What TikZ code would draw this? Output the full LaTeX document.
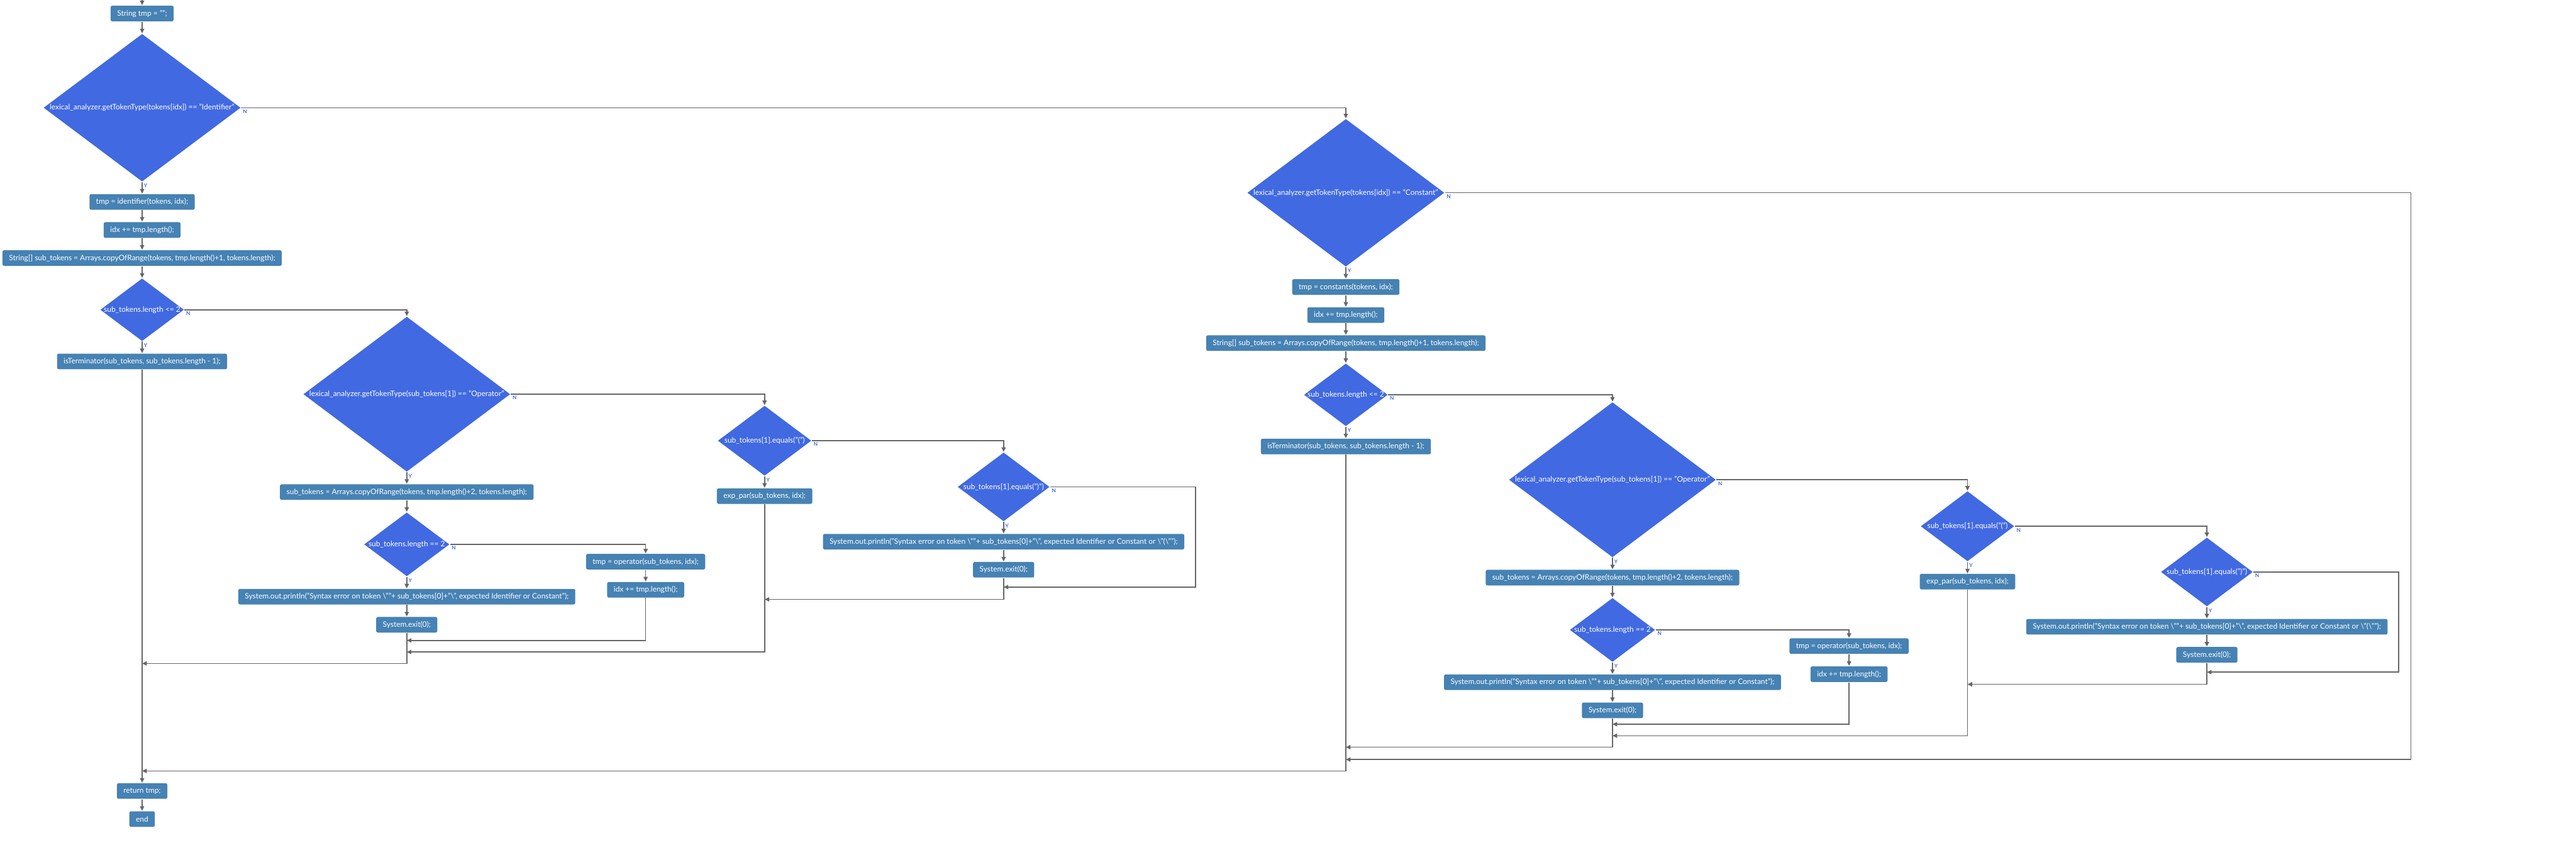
\documentclass[tikz,border=0pt]{standalone}
\usepackage{fontspec}
\setmainfont{Lato}
\usetikzlibrary{arrows.meta,positioning,shapes.geometric}
\definecolor{boxblue}{RGB}{70,130,180}
\definecolor{decblue}{RGB}{65,105,225}
\definecolor{linegray}{RGB}{102,102,102}

\begin{document}
\begin{tikzpicture}[x=1mm,y=-1mm,->,>={Triangle[length=2.8mm,width=2.6mm]},
  color=linegray,line width=0.6mm,node distance=7mm,
  op/.style={rectangle,rounded corners=1mm,fill=boxblue,text=white,
    font=\fontsize{13}{15}\selectfont,minimum height=9.5mm,inner xsep=4mm,inner ysep=0pt},
  dec/.style={diamond,fill=decblue,text=white,font=\fontsize{13}{15}\selectfont,
    inner sep=0pt,minimum width=#1mm,minimum height=0.75*#1mm},
  yn/.style={text=decblue,font=\fontsize{9}{9}\selectfont\bfseries,
    inner sep=0.8mm,anchor=north west,pos=0},
  hv/.style={to path={-| (\tikztotarget) \tikztonodes}},
  vh/.style={to path={|- (\tikztotarget) \tikztonodes}}]
  \useasboundingbox (0,0) rectangle (1568,513);

  % identifier branch
  \coordinate (top) at (86.5,0);
  \node[op] (init) at (86.5,8.25) {String tmp = "";};
  \node[dec=120,below=of init] (d1) {\makebox[0pt]{lexical\_analyzer.getTokenType(tokens[idx]) == "Identifier"}};
  \node[op,below=of d1] (identA) {tmp = identifier(tokens, idx);};
  \node[op,below=of identA] (idxA) {idx += tmp.length();};
  \node[op,below=of idxA] (subA) {String[] sub\_tokens = Arrays.copyOfRange(tokens, tmp.length()+1, tokens.length);};
  \node[dec=51,below=of subA] (d2) {\makebox[0pt]{sub\_tokens.length <= 2}};
  \node[op,below=of d2] (termA) {isTerminator(sub\_tokens, sub\_tokens.length - 1);};

  \node[dec=126,anchor=north] (d3) at (247.6,192.5) {\makebox[0pt]{lexical\_analyzer.getTokenType(sub\_tokens[1]) == "Operator"}};
  \node[op,below=of d3] (sub2B) {sub\_tokens = Arrays.copyOfRange(tokens, tmp.length()+2, tokens.length);};
  \node[dec=52,below=of sub2B] (d5) {\makebox[0pt]{sub\_tokens.length == 2}};
  \node[op,below=of d5] (errB) {System.out.println("Syntax error on token \textbackslash""+ sub\_tokens[0]+"\textbackslash", expected Identifier or Constant");};
  \node[op,below=of errB] (exitB) {System.exit(0);};
  \node[op,anchor=north] (opB) at (393,337) {tmp = operator(sub\_tokens, idx);};
  \node[op,below=of opB] (idxB) {idx += tmp.length();};

  \node[dec=57,anchor=north] (d4) at (465.4,246.7) {\makebox[0pt]{sub\_tokens[1].equals("(")}};
  \node[op,below=of d4] (expC) {exp\_par(sub\_tokens, idx);};

  \node[dec=56,anchor=north] (d6) at (610.9,275.2) {\makebox[0pt]{sub\_tokens[1].equals(")")}};
  \node[op,below=of d6] (errD) {System.out.println("Syntax error on token \textbackslash""+ sub\_tokens[0]+"\textbackslash", expected Identifier or Constant or \textbackslash"(\textbackslash"");};
  \node[op,below=of errD] (exitD) {System.exit(0);};

  % constant branch
  \node[dec=120,anchor=north] (dc) at (819.2,72.1) {\makebox[0pt]{lexical\_analyzer.getTokenType(tokens[idx]) == "Constant"}};
  \node[op,below=of dc] (constE) {tmp = constants(tokens, idx);};
  \node[op,below=of constE] (idxE) {idx += tmp.length();};
  \node[op,below=of idxE] (subE) {String[] sub\_tokens = Arrays.copyOfRange(tokens, tmp.length()+1, tokens.length);};
  \node[dec=51,below=of subE] (d2e) {\makebox[0pt]{sub\_tokens.length <= 2}};
  \node[op,below=of d2e] (termE) {isTerminator(sub\_tokens, sub\_tokens.length - 1);};

  \node[dec=126,anchor=north] (d3f) at (981.5,244.6) {\makebox[0pt]{lexical\_analyzer.getTokenType(sub\_tokens[1]) == "Operator"}};
  \node[op,below=of d3f] (sub2F) {sub\_tokens = Arrays.copyOfRange(tokens, tmp.length()+2, tokens.length);};
  \node[dec=52,below=of sub2F] (d5f) {\makebox[0pt]{sub\_tokens.length == 2}};
  \node[op,below=of d5f] (errF) {System.out.println("Syntax error on token \textbackslash""+ sub\_tokens[0]+"\textbackslash", expected Identifier or Constant");};
  \node[op,below=of errF] (exitF) {System.exit(0);};
  \node[op,anchor=north] (opF) at (1125.5,388.4) {tmp = operator(sub\_tokens, idx);};
  \node[op,below=of opF] (idxF) {idx += tmp.length();};

  \node[dec=57,anchor=north] (d4g) at (1197.6,298.8) {\makebox[0pt]{sub\_tokens[1].equals("(")}};
  \node[op,below=of d4g] (expG) {exp\_par(sub\_tokens, idx);};

  \node[dec=56,anchor=north] (d6h) at (1343.3,327) {\makebox[0pt]{sub\_tokens[1].equals(")")}};
  \node[op,below=of d6h] (errH) {System.out.println("Syntax error on token \textbackslash""+ sub\_tokens[0]+"\textbackslash", expected Identifier or Constant or \textbackslash"(\textbackslash"");};
  \node[op,below=of errH] (exitH) {System.exit(0);};

  % end
  \node[op] (ret) at (86.5,481.7) {return tmp;};
  \node[op,below=of ret] (fin) {end};

  % junctions
  \coordinate (jA1) at (86.5,404);
  \coordinate (jA2) at (86.5,469.5);
  \coordinate (jB1) at (247.6,390);
  \coordinate (jB2) at (247.6,397);
  \coordinate (jC) at (465.4,365);
  \coordinate (jD) at (610.9,357.5);
  \coordinate (cD) at (727.7,357.5);
  \coordinate (jE1) at (819.2,455);
  \coordinate (jE2) at (819.2,462.5);
  \coordinate (cE) at (1467.5,462.5);
  \coordinate (jF1) at (981.5,441);
  \coordinate (jF2) at (981.5,448);
  \coordinate (jG) at (1197.6,416.7);
  \coordinate (jH) at (1343.3,409.3);
  \coordinate (cH) at (1460,409.3);

  \path (top) edge (init)
  (init) edge (d1)
  (d1) edge node[yn] (yd1) {Y} (identA)
  (identA) edge (idxA)
  (idxA) edge (subA)
  (subA) edge (d2)
  (d2) edge node[yn] (yd2) {Y} (termA)
  (d3) edge node[yn] (yd3) {Y} (sub2B)
  (sub2B) edge (d5)
  (d5) edge node[yn] (yd5) {Y} (errB)
  (errB) edge (exitB)
  (opB) edge (idxB)
  (d4) edge node[yn] (yd4) {Y} (expC)
  (d6) edge node[yn] (yd6) {Y} (errD)
  (errD) edge (exitD)
  (dc) edge node[yn] (ydc) {Y} (constE)
  (constE) edge (idxE)
  (idxE) edge (subE)
  (subE) edge (d2e)
  (d2e) edge node[yn] (yd2e) {Y} (termE)
  (d3f) edge node[yn] (yd3f) {Y} (sub2F)
  (sub2F) edge (d5f)
  (d5f) edge node[yn] (yd5f) {Y} (errF)
  (errF) edge (exitF)
  (opF) edge (idxF)
  (d4g) edge node[yn] (yd4g) {Y} (expG)
  (d6h) edge node[yn] (yd6h) {Y} (errH)
  (errH) edge (exitH)
  (termA) edge (ret)
  (ret) edge (fin);

  \path (d1.east) edge[hv] node[yn] (nd1) {N} (dc.north)
  (d2.east) edge[hv] node[yn] (nd2) {N} (d3.north)
  (d3.east) edge[hv] node[yn] (nd3) {N} (d4.north)
  (d5.east) edge[hv] node[yn] (nd5) {N} (opB.north)
  (d4.east) edge[hv] node[yn] (nd4) {N} (d6.north)
  (d2e.east) edge[hv] node[yn] (nd2e) {N} (d3f.north)
  (d3f.east) edge[hv] node[yn] (nd3f) {N} (d4g.north)
  (d5f.east) edge[hv] node[yn] (nd5f) {N} (opF.north)
  (d4g.east) edge[hv] node[yn] (nd4g) {N} (d6h.north);

  \draw (d6.east) -| node[yn] (nd6) {N} (cD) -- (jD);
  \draw (d6h.east) -| node[yn] (nd6h) {N} (cH) -- (jH);
  \draw (dc.east) -| node[yn] (ndc) {N} (cE) -- (jE2);

  \path (exitB.south) edge[vh] (jA1)
  (idxB.south) edge[vh] (jB1)
  (expC.south) edge[vh] (jB2)
  (exitD.south) edge[vh] (jC)
  (termE.south) edge[vh] (jA2)
  (exitF.south) edge[vh] (jE1)
  (idxF.south) edge[vh] (jF1)
  (expG.south) edge[vh] (jF2)
  (exitH.south) edge[vh] (jG);
\end{tikzpicture}
\end{document}
